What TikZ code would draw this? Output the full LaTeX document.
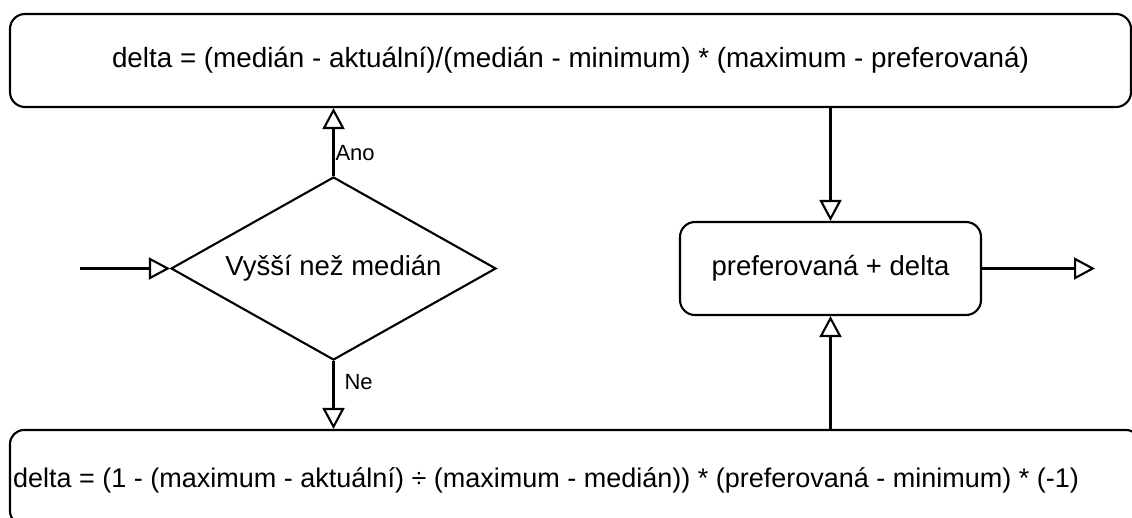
\documentclass[tikz,border=0pt]{standalone}
\usepackage{fontspec}
\setmainfont{Liberation Sans}
\usetikzlibrary{arrows.meta,shapes.geometric}
\tikzset{
  ln/.style={line width=2.1pt, draw=black},
  arr/.style={ln, -{Triangle[open, length=21pt, width=22pt]}},
  rbox/.style={ln, rectangle, rounded corners=15pt, inner sep=0pt, font=\fontsize{27.8}{33}\selectfont},
  dia/.style={ln, diamond, aspect=1.776, inner sep=0pt, font=\fontsize{27.5}{33}\selectfont},
  lbl/.style={font=\fontsize{22}{26}\selectfont, inner sep=0pt, anchor=west},
  txt/.style={font=\fontsize{27}{33}\selectfont, inner sep=0pt}
}
\begin{document}
\begin{tikzpicture}[x=1pt,y=-1pt]
\useasboundingbox (0,0) rectangle (1132,518);
\clip (0,0) rectangle (1132,518);
\fill[white] (0,0) rectangle (1132,518);
\node[rbox, minimum width=1121pt, minimum height=93pt] (top) at (570.5,60.5)
  {delta = (medián - aktuální)/(medián - minimum) * (maximum - preferovaná)};
\node[dia, minimum width=325pt, minimum height=183pt] (dec) at (333.5,268.5) {Vyšší než medián};
\node[rbox, minimum width=301pt, minimum height=93pt, font=\fontsize{27.5}{33}\selectfont] (pref) at (830.5,268.5) {preferovaná + delta};
\node[rbox, rounded corners=14pt, minimum width=1130pt, minimum height=95pt] (bot) at (575,477.5) {};
\node[txt, anchor=west] (bottxt) at (13,480)
  {delta = (1 - (maximum - aktuální) ÷ (maximum - medián)) * (preferovaná - minimum) * (-1)};
\coordinate (in) at (80,268.5);
\coordinate (out) at (1095,268.5);
\draw[arr] (in) -- (dec.west);
\draw[arr] (dec.north) -- node[lbl, pos=0.34, xshift=1pt] {Ano} (dec.north |- top.south);
\draw[arr] (dec.south) -- node[lbl, pos=0.31, xshift=10pt] {Ne} (dec.south |- bot.north);
\draw[arr] (top.south -| pref.north) -- (pref.north);
\draw[arr] (bot.north -| pref.south) -- (pref.south);
\draw[arr] (pref.east) -- (out);
\end{tikzpicture}
\end{document}
